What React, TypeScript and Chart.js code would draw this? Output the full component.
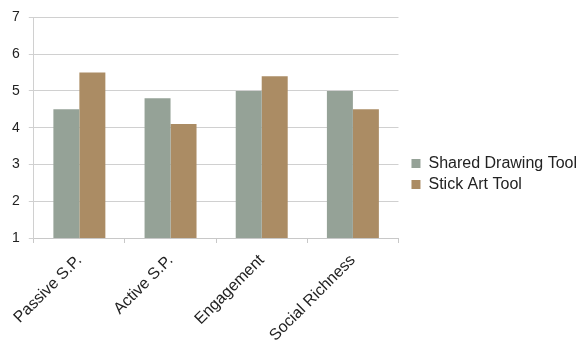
import React, { useEffect, useRef } from "react";
import { Chart, registerables } from "chart.js";

Chart.register(...registerables);

const categories = ["Passive S.P.", "Active S.P.", "Engagement", "Social Richness"];
const sharedDrawingTool = [4.5, 4.8, 5.0, 5.0];
const stickArtTool = [5.5, 4.1, 5.4, 4.5];
const seriesNames = ["Shared Drawing Tool", "Stick Art Tool"];

const shiftLegend = {
  id: "shiftLegend",
  afterLayout(chart: any) {
    const l = chart.legend;
    if (l) {
      l.left += 8;
      l.right += 8;
    }
  },
};

export default function App() {
  const ref = useRef<HTMLCanvasElement | null>(null);
  useEffect(() => {
    if (!ref.current) return;
    const font = "'Liberation Sans', Arial, sans-serif";
    const chart = new Chart(ref.current, {
      type: "bar",
      data: {
        labels: categories,
        datasets: [
          {
            label: seriesNames[0],
            data: sharedDrawingTool,
            backgroundColor: "#95a297",
            categoryPercentage: 0.57,
            barPercentage: 1,
          },
          {
            label: seriesNames[1],
            data: stickArtTool,
            backgroundColor: "#ab8c64",
            categoryPercentage: 0.57,
            barPercentage: 1,
          },
        ],
      },
      plugins: [shiftLegend],
      options: {
        responsive: false,
        animation: false,
        layout: { padding: { left: 3, top: 7, right: 0, bottom: 0 } },
        plugins: {
          legend: {
            position: "right",
            maxWidth: 260,
            labels: {
              boxWidth: 9,
              boxHeight: 9,
              padding: 5,
              color: "#222",
              font: { family: font, size: 16 },
            },
          },
          tooltip: { enabled: false },
        },
        scales: {
          x: {
            afterFit: (scale: any) => {
              scale.height = 103;
            },
            grid: {
              drawOnChartArea: false,
              drawTicks: true,
              tickLength: 5,
              color: "#c8c8c8",
              offset: true,
            },
            border: { color: "#c8c8c8" },
            ticks: {
              minRotation: 45,
              maxRotation: 45,
              color: "#222",
              font: { family: font, size: 16 },
              padding: 8,
            },
          },
          y: {
            min: 1,
            max: 7,
            ticks: {
              stepSize: 1,
              color: "#222",
              font: { family: font, size: 14 },
              padding: 9,
            },
            grid: { color: "#d0d0d0", tickLength: 5 },
            border: { color: "#d0d0d0" },
          },
        },
      },
    });
    return () => chart.destroy();
  }, []);
  return (
    <div style={{ position: "absolute", left: 0, top: 0, width: 579, height: 341, background: "#fff" }}>
      <canvas ref={ref} width={579} height={341} />
    </div>
  );
}
